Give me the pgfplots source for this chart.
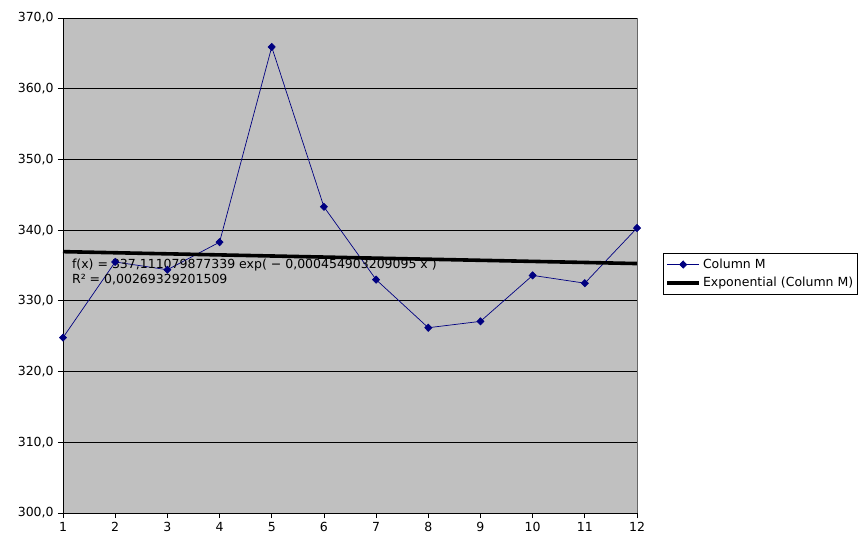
\documentclass[border=0pt]{standalone}
\usepackage{pgfplots}
\pgfplotsset{compat=1.18}
\usepackage{fontspec}
\setmainfont{DejaVu Sans}
\definecolor{plotbg}{HTML}{C0C0C0}
\definecolor{navyline}{HTML}{000080}

\begin{document}
\fontsize{12.5bp}{15bp}\selectfont
\begin{tikzpicture}
  \begin{axis}[
    scale only axis,
    width=574bp,
    height=495bp,
    xmin=1, xmax=12,
    ymin=300, ymax=370,
    xtick={1,...,12},
    ytick={300,310,...,370},
    axis lines=left,
    axis line style={-, black, line width=0.8bp},
    axis background/.style={fill=plotbg},
    ymajorgrids,
    major grid style={black, line width=0.8bp},
    tick align=outside,
    major tick length=5bp,
    tick style={black, line width=0.8bp},
    /pgf/number format/assume math mode=true,
    yticklabel style={/pgf/number format/.cd, fixed, fixed zerofill, precision=1, use comma},
    xticklabel style={/pgf/number format/.cd, fixed, precision=0},
    tick label style={font=\fontsize{12.5bp}{15bp}\selectfont},
    clip=false,
    legend style={
      at={(1.0453,0.5253)}, anchor=north west,
      draw=black, line width=0.8bp,
      font=\fontsize{12.5bp}{15bp}\selectfont,
      inner xsep=2bp, inner ysep=3.5bp, row sep=3bp,
      cells={anchor=west},
    },
    legend cell align=left,
    legend image code/.code={
      \draw[mark repeat=2, mark phase=2, #1]
        plot coordinates {(0bp,0bp) (16bp,0bp) (32bp,0bp)};
    },
  ]
    \addplot[navyline, line width=0.7bp, mark=diamond*, mark size=3.6bp,
      mark options={fill=navyline, draw=navyline, xscale=1.3}]
      coordinates {
        (1,324.8) (2,335.5) (3,334.4) (4,338.3) (5,365.9) (6,343.3)
        (7,333.0) (8,326.2) (9,327.1) (10,333.6) (11,332.5) (12,340.3)
      };
    \addlegendentry{Column M}
    \addplot[black, line width=3.6bp]
      coordinates {
        (1,336.958) (2,336.804) (3,336.651) (4,336.498) (5,336.345) (6,336.192)
        (7,336.039) (8,335.887) (9,335.734) (10,335.581) (11,335.429) (12,335.276)
      };
    \addlegendentry{Exponential (Column M)}
    \draw[gray!80!black, line width=0.8bp] (rel axis cs:1,0) -- (rel axis cs:1,1);
    \node[anchor=north west, align=left, inner sep=0pt,
      font=\fontsize{12.5bp}{15bp}\selectfont]
      at (axis cs:1.17,336.0)
      {f(x) = 337,111079877339 exp( − 0,000454903209095 x )\\R² = 0,00269329201509};
  \end{axis}
  \useasboundingbox (-63bp,-35bp) rectangle (804bp,513bp);
\end{tikzpicture}
\end{document}
